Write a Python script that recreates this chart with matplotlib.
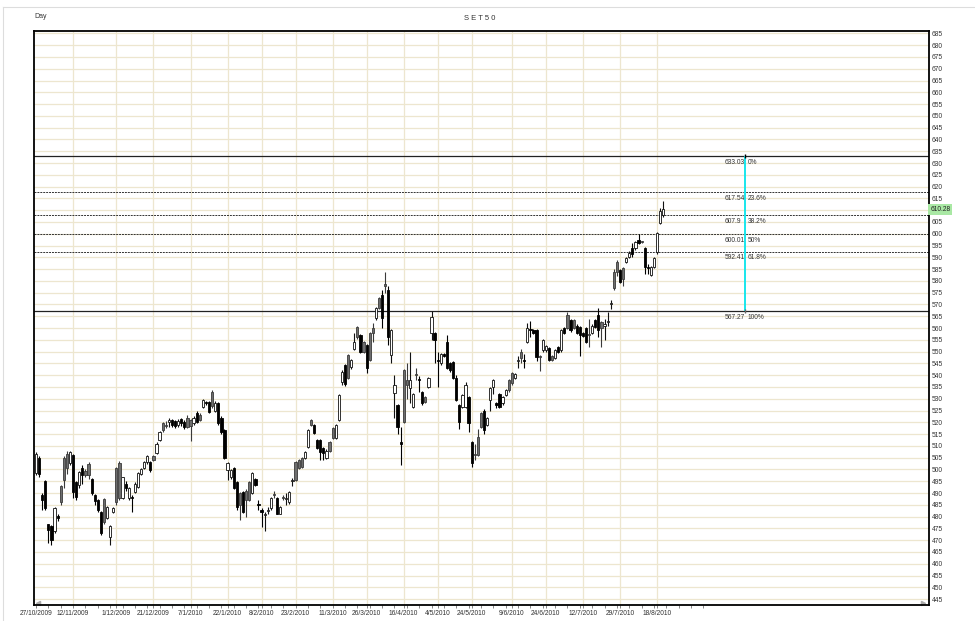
import numpy as np
import matplotlib
matplotlib.use("Agg")
import matplotlib.pyplot as plt
from matplotlib.lines import Line2D

plt.rcParams["font.family"] = ["Liberation Sans", "DejaVu Sans"]

# ---- DATA ----
opens = [498.5, 505, 489, 495, 476.8, 476, 474, 480.2, 493, 505, 506.5, 502.7, 506, 494.6, 493.5, 500.5,
         499.5, 502.5, 496, 489, 487, 482, 487.4, 479.4, 471.3, 482, 500.5, 502.7, 488, 494, 488, 488.5,
         490.5, 492.5, 498, 500.5, 503, 503, 505.6, 507, 512.4, 519.6, 519, 520, 521, 520.5, 519, 521.5,
         520, 522, 521, 519.6, 524, 523, 526.4, 528.5, 528.5, 532.8, 525, 528, 522, 516.6, 499.7, 496.7,
         500.5, 494.6, 490, 490.3, 491, 494.6, 490, 496, 485.5, 483, 480.5, 482.5, 483.6, 489.5, 488, 481.3,
         488.3, 487.5, 486, 495, 503, 504, 504.8, 504.8, 509.4, 521, 518.8, 512.4, 512.4, 509, 504.8, 511.5,
         517.5, 513.3, 521, 537, 544.2, 548.4, 543.3, 551, 560.3, 557, 554, 552.7, 557.8, 559.9, 564.1, 572.6,
         574, 578.5, 576, 548.4, 532.3, 527.2, 511.5, 542, 537.8, 534.6, 526.4, 540.5, 538.5, 532.7, 530.6, 535,
         558, 557.8, 546.5, 545, 549, 554, 545, 545.5, 538.7, 527.2, 526.4, 526.4, 530.6, 511.5, 506.5, 513.7,
         523.8, 525, 518.8, 529.4, 535, 528, 532, 528, 531.5, 537.8, 540.8, 539, 546, 549.7, 546.5, 554,
         559.5, 559, 559, 548, 550.6, 550.6, 551.4, 548, 547.2, 552, 550.6, 560, 565.4, 563.3, 563.3, 561,
         560.3, 558, 560, 557.5, 558, 563.3, 565.4, 562.5, 561, 562.5, 570, 583.6, 587.9, 584.5, 585.5, 588,
         590, 594, 593.8, 597.5, 596.5, 593.8, 585.5, 582.4, 586, 592.1, 604.5, 608]
highs = [507.5, 505.5, 490, 495.5, 477, 476.5, 484, 481, 493.5, 505.5, 508, 508, 506.5, 495, 499.5, 502,
         500, 503, 496.5, 489.5, 487.5, 482.5, 488, 484.5, 476.5, 484, 501, 503.5, 497, 495, 492.5, 489,
         494.5, 498.8, 500.5, 503.5, 506, 503.5, 506, 511.5, 516.2, 520, 520.5, 522, 521.5, 521, 521.5, 522,
         521, 523, 521.5, 522.5, 525, 524, 530, 529, 529, 533.5, 529, 528.5, 522.5, 517, 503, 500,
         501, 495, 490.5, 490.8, 491.5, 495, 498.8, 496.5, 487, 483.5, 482, 484, 488.3, 491, 488.5, 484.5,
         489, 490, 490.8, 496.5, 503.5, 504.5, 505.3, 507.8, 517, 521.5, 519.3, 512.9, 513, 509.5, 508.5, 512,
         518, 519.3, 532, 542, 544.8, 549, 546.8, 558, 560.8, 557.5, 554.5, 553.2, 558.3, 562, 568.9, 573.1,
         576, 583.6, 578, 559.5, 540, 527.7, 518, 542.5, 545, 550, 532.5, 543, 539.5, 533.2, 531, 539.2,
         567.3, 558.3, 550, 549.5, 549.5, 557, 545.5, 546, 540, 527.7, 532, 537, 531, 512, 511, 517,
         524.3, 525.5, 522.2, 534.9, 538.3, 528.5, 532.5, 531, 534, 538.3, 541.3, 541, 548, 551, 549, 562,
         563, 559.5, 559.5, 548.5, 555.3, 553, 551.9, 548.5, 551, 552.5, 559.5, 560.5, 567, 563.8, 563.8, 561.5,
         560.8, 558.5, 560.5, 564, 561.5, 563.8, 568.5, 563, 564, 567, 572, 585, 589, 585, 586, 590,
         592.5, 596, 596.9, 600, 597, 594.3, 587, 586.2, 590.1, 600.7, 611, 614]
lows = [497.5, 497, 483, 483, 469, 468, 473, 478, 485, 492, 498, 502, 488, 487, 492, 494,
        497, 496, 489, 485, 482, 472, 477, 479, 468, 481.5, 485, 487, 487.5, 491, 487, 482,
        490, 492, 497.5, 500, 502.5, 499, 503.5, 506.5, 512, 516, 517.5, 518, 518, 517.5, 518, 518.5,
        517, 517.5, 512, 519, 519.5, 520.5, 526, 527.5, 524, 526, 524.5, 519, 515, 504.5, 495.4, 496,
        491.5, 483, 478.5, 481.5, 480, 486.5, 489.5, 493, 483, 475.5, 474, 481, 483, 488, 481, 481,
        487, 485, 485.5, 493, 495, 500, 500.5, 504.5, 509, 518.5, 515, 508.5, 504, 504, 504.3, 507.5,
        513, 513, 520.5, 536, 535.5, 538.5, 542.8, 550.5, 555.5, 549.2, 549.5, 541, 545.8, 554, 563.6, 567.9,
        560, 575, 553, 545, 521.7, 515, 502, 519.5, 530, 528, 526, 538, 533, 527.5, 528, 534.5,
        555, 545, 535, 544.5, 547.5, 542.5, 541.5, 538.5, 529, 517, 526, 526, 516, 501, 504, 505.5,
        517.5, 515, 518.3, 525, 531.8, 526, 526, 527.5, 531, 533, 536, 538.5, 543, 545, 543, 553.5,
        556, 557.5, 546, 541.7, 550, 550, 545.8, 545.8, 546.7, 549.5, 550, 557.3, 559.5, 558.5, 559.5, 557.5,
        548, 556, 553.5, 552, 557.5, 559.8, 556, 552, 555, 561, 568, 576, 582, 579, 578, 587.5,
        589.5, 590, 593.3, 595.5, 596, 583, 583, 582, 585.5, 591.6, 604, 607]
closes = [506.5, 498, 487, 483.5, 474.3, 470, 483.5, 479.5, 486, 495.5, 500.5, 507.3, 490.5, 488.5, 499, 497.5,
          497.5, 497.5, 490, 486.5, 483, 473, 477.5, 484, 476, 483.5, 486, 488, 496.7, 492, 492, 488,
          494, 498.4, 500, 503, 505.6, 499.6, 504, 511, 515.8, 516.6, 518.5, 521, 519, 518.5, 520.5, 519.5,
          518, 518, 518.5, 522, 520, 521, 529.4, 528, 524.3, 527, 528, 519.6, 515.8, 505, 502.6, 499.7,
          492, 484, 485, 482, 487, 487, 498.4, 493.3, 485, 482, 480.5, 483, 487.8, 489, 481.3, 484,
          488, 488, 490.3, 495.4, 495.4, 500.5, 501, 507.3, 516.6, 518.8, 515.4, 509, 507.3, 507, 508, 508,
          513.3, 518.8, 531.5, 541.2, 536.1, 539, 546.3, 554, 556, 549.7, 550, 543, 546.3, 557.8, 568.4, 568.4,
          564.1, 578, 556, 559, 536, 518, 511, 520, 536, 538, 532, 540, 538, 528, 528.5, 538.7,
          564.6, 555, 546, 549, 548, 543, 542, 539, 529.4, 520, 531.5, 536, 519.6, 502.6, 506, 506,
          518, 516.6, 521.7, 534.4, 537.8, 527.5, 526.5, 530.6, 533.6, 533.6, 536.5, 540.5, 546.3, 547.2, 546, 560,
          559, 558, 547.6, 547.6, 554.8, 552.5, 546.3, 546.3, 550.6, 550, 559, 557.8, 560, 559, 560, 558,
          557, 556.5, 554, 557, 561, 560.3, 559, 560, 561.5, 563, 570.5, 576.9, 583.6, 579.4, 581, 589.6,
          592, 591.5, 596.4, 596, 596.4, 585.7, 585.3, 585.7, 589.6, 600.2, 609.5, 610.28]

# date labels and the bar they sit on
date_labels = ["27/10/2009", "12/11/2009", "1/12/2009", "21/12/2009", "7/1/2010", "22/1/2010",
               "8/2/2010", "23/2/2010", "11/3/2010", "26/3/2010", "16/4/2010", "4/5/2010",
               "24/5/2010", "9/6/2010", "24/6/2010", "12/7/2010", "29/7/2010", "18/8/2010"]
date_bars = [0, 12, 26, 38, 50, 62, 73, 84, 96, 107, 119, 130, 141, 154, 165, 177, 189, 201]

# Fibonacci retracement
fib_prices = [633.03, 617.54, 607.9, 600.01, 592.41, 567.27]
fib_pcts = ["0%", "23.6%", "38.2%", "50%", "61.8%", "100%"]
fib_bar = 229.6
last_price = 610.28

# ---- PLOT ----
fig = plt.figure(figsize=(9.75, 6.21), dpi=100)
ax = fig.add_axes([34 / 975, 16 / 621, 895 / 975, 574 / 621])

x = np.arange(len(closes))
o = np.array(opens)
h = np.array(highs)
l = np.array(lows)
c = np.array(closes)
prev = np.r_[c[0], c[:-1]]

grid_col = "#ede6cf"
for v in range(445, 690, 5):
    ax.axhline(v, color=grid_col, lw=0.9, zorder=0)
for b in date_bars[1:]:
    ax.axvline(b, color=grid_col, lw=0.9, zorder=0)

up = c >= o
black = (~up) & (c < prev)
gray = (~up) & (c >= prev)

w = 0.72
body_lo = np.minimum(o, c)
body_h = np.maximum(np.abs(c - o), 0.45)

for mask, face, edge in [(up, "white", "#111111"), (black, "#000000", "#000000"), (gray, "#6e6e6e", "#3a3a3a")]:
    ax.vlines(x[mask], l[mask], h[mask], color=edge, lw=0.8, zorder=3)
    ax.bar(x[mask], body_h[mask], bottom=body_lo[mask], width=w, color=face,
           edgecolor=edge, linewidth=0.6, zorder=4)

# fib lines
for p, pct in zip(fib_prices, fib_pcts):
    if pct in ("0%", "100%"):
        ax.axhline(p, color="#222222", lw=0.9, zorder=2)
    else:
        ax.axhline(p, color="#333333", lw=0.7, ls=(0, (2, 1)), zorder=2)
    ax.text(223.0, p - 2.7, f"{p:g}", fontsize=4.8, color="#333333", va="center", ha="left", zorder=6)
    ax.text(230.4, p - 2.7, pct, fontsize=4.8, color="#333333", va="center", ha="left", zorder=6)

ax.vlines(fib_bar, fib_prices[-1], fib_prices[0], color="#18e6ec", lw=1.4, zorder=5)
ax.plot([fib_bar], [fib_prices[0]], marker="|", color="black", ms=3, zorder=6)
ax.plot([fib_bar], [fib_prices[-1]], marker="|", color="#666666", ms=3, zorder=6)

ax.set_xlim(-0.65, 289.0)
ax.set_ylim(442.5, 686.0)

ax.yaxis.tick_right()
ax.set_yticks(range(445, 690, 5))
ax.tick_params(axis="y", labelsize=4.8, labelcolor="#333333", length=0, pad=2)
ax.set_xticks(date_bars)
ax.set_xticklabels(date_labels)
ax.set_xticks(range(0, 217, 4), minor=True)
ax.tick_params(axis="x", which="both", labelsize=4.8, labelcolor="#333333", direction="out", pad=1.5,
               length=2, width=0.5, color="#555555")
for s in ax.spines.values():
    s.set_color("black")
    s.set_linewidth(1.3)

# last price tag
ax.text(1.0015, last_price, f"{last_price:.2f}", transform=ax.get_yaxis_transform(), fontsize=4.8,
        color="#222222", va="center", ha="left", zorder=7,
        bbox=dict(boxstyle="square,pad=0.3", fc="#a9e8a4", ec="none"))

fig.text(480 / 975, 1 - 18 / 621, "S E T 5 0", fontsize=5.5, color="#333333", ha="center", va="center")
fig.text(34 / 975, 1 - 17 / 621, "Day", fontsize=5, color="#333333", ha="left", va="center")

# outer panel frame
fig.add_artist(Line2D([3 / 975, 1], [1 - 7 / 621, 1 - 7 / 621], transform=fig.transFigure,
                      color="#dddddd", lw=0.8))
fig.add_artist(Line2D([3 / 975, 3 / 975], [0, 1 - 7 / 621], transform=fig.transFigure,
                      color="#dddddd", lw=0.8))

# scroll arrows
ax.plot([0.004], [0.003], marker="<", color="#aaaaaa", ms=3, transform=ax.transAxes, clip_on=False)
ax.plot([0.993], [0.003], marker=">", color="#aaaaaa", ms=3, transform=ax.transAxes, clip_on=False)

fig.savefig("out.png", dpi=100)
